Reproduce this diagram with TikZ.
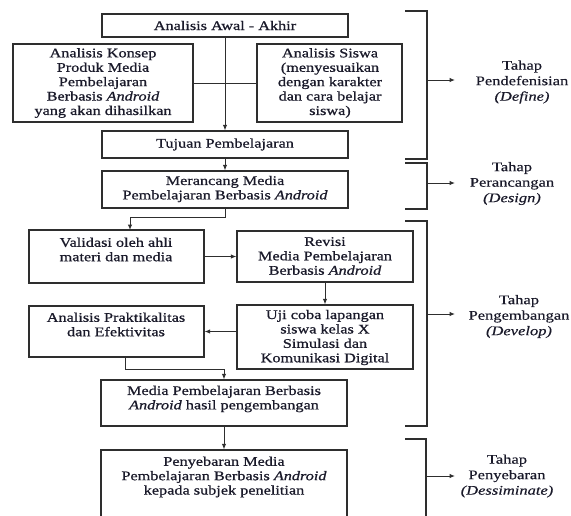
\documentclass[tikz,border=0pt]{standalone}
\usepackage{fontspec}
\setmainfont{Liberation Serif}[FakeStretch=1.25]
\newfontfamily\boxfont{Liberation Serif}[FakeStretch=1.23,FakeBold=0.9]
\newfontfamily\stagefont{Liberation Serif}[FakeStretch=1.25,FakeBold=0.4]
\usetikzlibrary{arrows.meta,fit}
\definecolor{ln}{HTML}{2E2E2E}
\definecolor{tx}{HTML}{1A1A2A}
\tikzset{
  box/.style={draw=ln, line width=1.2pt, inner sep=0pt, fill=none},
  txt/.style={text=tx, align=center, inner sep=0pt, font=\boxfont\fontsize{13.2}{14.4}\selectfont},
  stage/.style={text=tx, align=center, inner sep=0pt, font=\stagefont\fontsize{13.2}{15.5}\selectfont},
  arr/.style={draw=ln, line width=1pt, -{Latex[length=5.5pt,width=4.5pt]}},
  con/.style={draw=ln, line width=1pt},
  brk/.style={draw=ln, line width=1.2pt},
}
\newcommand{\boxnode}[5]{%
  \path (#2,#3) coordinate (#1-nw) (#4,#5) coordinate (#1-se);
  \node[box, fit=(#1-nw)(#1-se)] (#1) {};}
\begin{document}
\begin{tikzpicture}[x=1pt,y=-1pt]
\useasboundingbox (0,0) rectangle (571,515);
\clip (0,0) rectangle (571,515);
% boxes
\boxnode{awal}{102}{14}{348}{37}
\boxnode{konsep}{13}{44}{193}{122}
\boxnode{siswa}{257}{44}{402}{122}
\boxnode{tujuan}{102}{131}{348}{158}
\boxnode{rancang}{102}{171}{348}{208}
\boxnode{valid}{29}{230}{204}{283}
\boxnode{revisi}{237}{231}{413}{282}
\boxnode{uji}{237}{305}{413}{369}
\boxnode{prakt}{29}{306}{204}{357}
\boxnode{hasil}{101}{380}{347}{426}
\boxnode{sebar}{101}{450}{347}{540}
% texts
\node[txt] (t-awal) at (225,25.5) {Analisis Awal - Akhir};
\node[txt] (t-konsep) at (103,83) {Analisis Konsep\\Produk Media\\Pembelajaran\\Berbasis \textit{Android}\\yang akan dihasilkan};
\node[txt] (t-siswa) at (330,83) {Analisis Siswa\\(menyesuaikan\\dengan karakter\\dan cara belajar\\siswa)};
\node[txt] (t-tujuan) at (225,144.5) {Tujuan Pembelajaran};
\node[txt] (t-rancang) at (225,189) {Merancang Media\\Pembelajaran Berbasis \textit{Android}};
\node[txt] (t-valid) at (116,249.5) {Validasi oleh ahli\\materi dan media};
\node[txt] (t-revisi) at (325,256) {Revisi\\Media Pembelajaran\\Berbasis \textit{Android}};
\node[txt] (t-uji) at (325,337.5) {Uji coba lapangan\\siswa kelas X\\Simulasi dan\\Komunikasi Digital};
\node[txt] (t-prakt) at (116,324.5) {Analisis Praktikalitas\\dan Efektivitas};
\node[txt] (t-hasil) at (224,399) {Media Pembelajaran Berbasis\\\textit{Android} hasil pengembangan};
\node[txt] (t-sebar) at (224,477) {Penyebaran Media\\Pembelajaran Berbasis \textit{Android}\\kepada subjek penelitian};
% connectors
\draw[arr] (awal.south) -- (tujuan.north);
\draw[con] (konsep.east) -- (siswa.west);
\draw[arr] (tujuan.south) -- (rancang.north);
\coordinate (v-in) at (130,230);
\draw[arr] (rancang.south) -- ++(0,9) -| (v-in);
\draw[arr] (valid.east) -- (valid.east -| revisi.west);
\draw[arr] (revisi.south) -- (uji.north);
\draw[arr] (uji.west |- prakt.east) -- (prakt.east);
\coordinate (p-out) at (125,357);
\draw[arr] (p-out) -- ++(0,12) -| (hasil.north);
\draw[arr] (hasil.south) -- (sebar.north);
% brackets
\coordinate (b1a) at (405,11); \coordinate (b1b) at (427,11);
\coordinate (b1c) at (427,159); \coordinate (b1d) at (405,159);
\coordinate (b1m) at (427,80); \coordinate (b1e) at (455,80);
\draw[brk] (b1a) -- (b1b) -- (b1c) -- (b1d);
\draw[arr] (b1m) -- (b1e);
\node[stage] (s1) at (522,82) {Tahap\\Pendefenisian\\\textit{(Define)}};
\coordinate (b2a) at (405,163); \coordinate (b2b) at (427,163);
\coordinate (b2c) at (427,209); \coordinate (b2d) at (405,209);
\coordinate (b2m) at (427,183); \coordinate (b2e) at (455,183);
\draw[brk] (b2a) -- (b2b) -- (b2c) -- (b2d);
\draw[arr] (b2m) -- (b2e);
\node[stage] (s2) at (512,183.5) {Tahap\\Perancangan\\\textit{(Design)}};
\coordinate (b3a) at (405,221); \coordinate (b3b) at (427,221);
\coordinate (b3c) at (427,426); \coordinate (b3d) at (405,426);
\coordinate (b3m) at (427,314); \coordinate (b3e) at (455,314);
\draw[brk] (b3a) -- (b3b) -- (b3c) -- (b3d);
\draw[arr] (b3m) -- (b3e);
\node[stage] (s3) at (519,316.5) {Tahap\\Pengembangan\\\textit{(Develop)}};
\coordinate (b4a) at (405,439); \coordinate (b4b) at (426,439);
\coordinate (b4c) at (426,540);
\coordinate (b4m) at (426,476); \coordinate (b4e) at (455,476);
\draw[brk] (b4a) -- (b4b) -- (b4c);
\draw[arr] (b4m) -- (b4e);
\node[stage] (s4) at (507,476) {Tahap\\Penyebaran\\\textit{(Dessiminate)}};
\end{tikzpicture}
\end{document}
